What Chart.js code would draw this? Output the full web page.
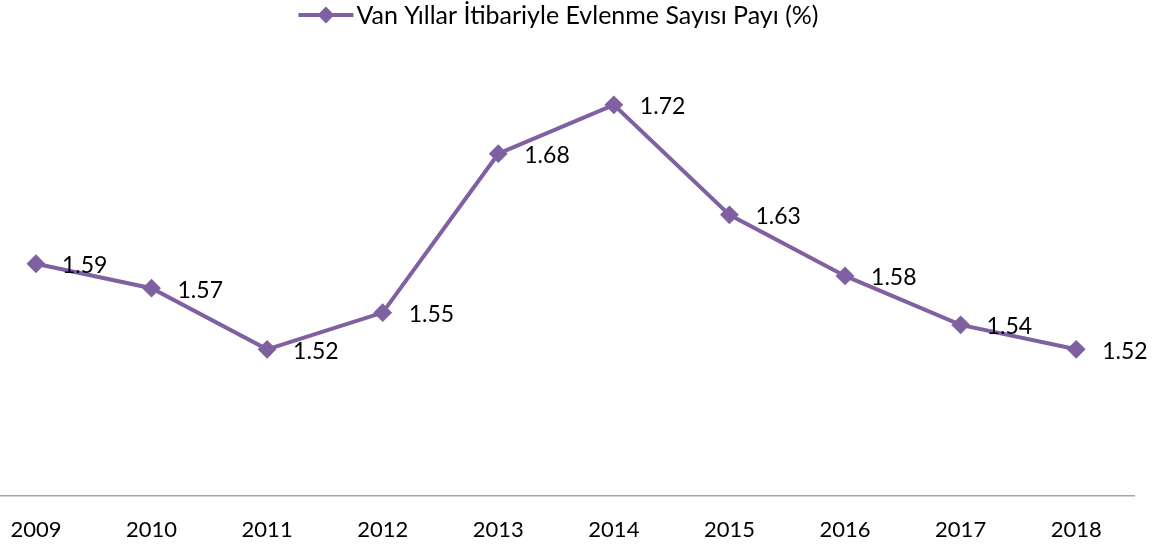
<!DOCTYPE html>
<html>
<head>
<meta charset="utf-8">
<script src="https://cdn.jsdelivr.net/npm/chart.js@4/dist/chart.umd.min.js"></script>
<style>
  html, body { margin: 0; padding: 0; background: #ffffff; }
  #wrap { width: 1163px; height: 552px; position: relative; }
</style>
</head>
<body>
<div id="wrap"><canvas id="c"></canvas></div>
<script>
const years = ['2009', '2010', '2011', '2012', '2013', '2014', '2015', '2016', '2017', '2018'];
const shares = [1.59, 1.57, 1.52, 1.55, 1.68, 1.72, 1.63, 1.58, 1.54, 1.52];
const seriesName = 'Van Yıllar İtibariyle Evlenme Sayısı Payı (%)';

const PURPLE = '#7F61A1';
const FONT = 'Lato, "Open Sans", sans-serif';

const points = years.map((y, i) => ({ x: i, y: shares[i] }));

const valueLabels = {
  id: 'valueLabels',
  afterDatasetsDraw(chart) {
    const ctx = chart.ctx;
    const meta = chart.getDatasetMeta(0);
    ctx.save();
    ctx.font = '23px ' + FONT;
    ctx.fillStyle = '#000000';
    ctx.textAlign = 'left';
    ctx.textBaseline = 'middle';
    meta.data.forEach((pt, i) => {
      ctx.fillText(shares[i].toFixed(2), pt.x + 26, pt.y + 2);
    });
    ctx.restore();
  }
};

const lineLegend = {
  id: 'lineLegend',
  afterDraw(chart) {
    const ctx = chart.ctx;
    ctx.save();
    ctx.font = '25px ' + FONT;
    const tw = ctx.measureText(seriesName).width;
    const sym = 55, gap = 3;
    const total = sym + gap + tw;
    const x0 = chart.width / 2 - total / 2 - 23;
    const y0 = 15;
    ctx.strokeStyle = PURPLE;
    ctx.lineWidth = 4;
    ctx.beginPath();
    ctx.moveTo(x0, y0);
    ctx.lineTo(x0 + sym, y0);
    ctx.stroke();
    ctx.fillStyle = PURPLE;
    const cx = x0 + sym / 2, r = 8.5;
    ctx.beginPath();
    ctx.moveTo(cx, y0 - r);
    ctx.lineTo(cx + r, y0);
    ctx.lineTo(cx, y0 + r);
    ctx.lineTo(cx - r, y0);
    ctx.closePath();
    ctx.fill();
    ctx.fillStyle = '#000000';
    ctx.textAlign = 'left';
    ctx.textBaseline = 'middle';
    ctx.fillText(seriesName, x0 + sym + gap, y0 + 1);
    ctx.restore();
  }
};

new Chart(document.getElementById('c'), {
  type: 'line',
  data: {
    datasets: [{
      label: seriesName,
      data: points,
      borderColor: PURPLE,
      backgroundColor: PURPLE,
      borderWidth: 4,
      pointStyle: 'rectRot',
      pointRadius: 8,
      pointBorderWidth: 2,
      pointBackgroundColor: PURPLE,
      pointBorderColor: PURPLE,
      tension: 0,
      clip: false
    }]
  },
  options: {
    responsive: true,
    maintainAspectRatio: false,
    animation: false,
    layout: { autoPadding: false, padding: { top: 7, left: 0, right: 29, bottom: 8 } },
    plugins: {
      legend: { display: false },
      tooltip: { enabled: false }
    },
    scales: {
      x: {
        type: 'linear',
        min: -0.311,
        max: 9.5,
        afterBuildTicks(axis) {
          axis.ticks = years.map((_, i) => ({ value: i }));
        },
        afterFit(axis) {
          axis.height = 48;
          axis.paddingLeft = 0;
          axis.paddingRight = 0;
        },
        grid: { display: false, drawTicks: false },
        border: { display: true, color: '#A6A6A6', width: 1.5 },
        ticks: {
          autoSkip: false,
          maxRotation: 0,
          padding: 21,
          color: '#000000',
          font: { family: FONT, size: 22 },
          callback: (v) => years[v] ?? ''
        }
      },
      y: {
        display: false,
        min: 1.4,
        max: 1.8
      }
    }
  },
  plugins: [valueLabels, lineLegend]
});
</script>
</body>
</html>
